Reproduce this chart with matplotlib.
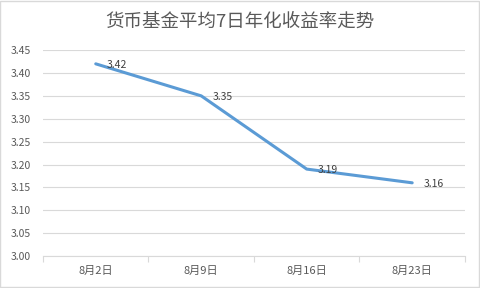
import matplotlib.pyplot as plt
from matplotlib.patches import Rectangle

plt.rcParams['font.family'] = ['Noto Sans CJK SC', 'DejaVu Sans']

categories = ['8月2日', '8月9日', '8月16日', '8月23日']
values = [3.42, 3.35, 3.19, 3.16]
y_ticks = [3.00, 3.05, 3.10, 3.15, 3.20, 3.25, 3.30, 3.35, 3.40, 3.45]

text_color = '#595959'
grid_color = '#D9D9D9'
line_color = '#5B9BD5'

fig = plt.figure(figsize=(4.8, 2.88), dpi=100)
fig.patches.append(Rectangle((0.001, 0.002), 0.997, 0.995, transform=fig.transFigure,
                             fill=False, edgecolor='#D9D9D9', linewidth=1.0))
ax = fig.add_axes([0.0896, 0.111, 0.879, 0.715])

x = list(range(len(categories)))
ax.plot(x, values, color=line_color, linewidth=2.2, solid_capstyle='round', zorder=3)
for xi, v in zip(x, values):
    ax.annotate(f'{v:.2f}', (xi, v), xytext=(8, -1), textcoords='offset points',
                ha='left', va='center', fontsize=7.5, color='#404040')

ax.set_xlim(-0.5, len(categories) - 0.5)
ax.set_ylim(3.0, 3.45)
ax.set_yticks(y_ticks)
ax.set_yticklabels([f'{t:.2f}' for t in y_ticks])
ax.set_xticks(x)
ax.set_xticklabels(categories)
ax.set_xticks([i - 0.5 for i in range(len(categories) + 1)], minor=True)

ax.grid(axis='y', color=grid_color, linewidth=0.8)
ax.set_axisbelow(True)
for side in ['top', 'right', 'left']:
    ax.spines[side].set_visible(False)
ax.spines['bottom'].set_color(grid_color)
ax.spines['bottom'].set_linewidth(0.8)

ax.tick_params(axis='y', length=0, labelsize=7.5, labelcolor=text_color, pad=9)
ax.tick_params(axis='x', which='major', length=0, labelsize=8, labelcolor=text_color, pad=7)
ax.tick_params(axis='x', which='minor', length=4, color=grid_color, width=0.8)

fig.text(0.5, 0.924, '货币基金平均7日年化收益率走势', ha='center', va='center',
         fontsize=13.3, color=text_color)

fig.savefig('out.png', dpi=100)
